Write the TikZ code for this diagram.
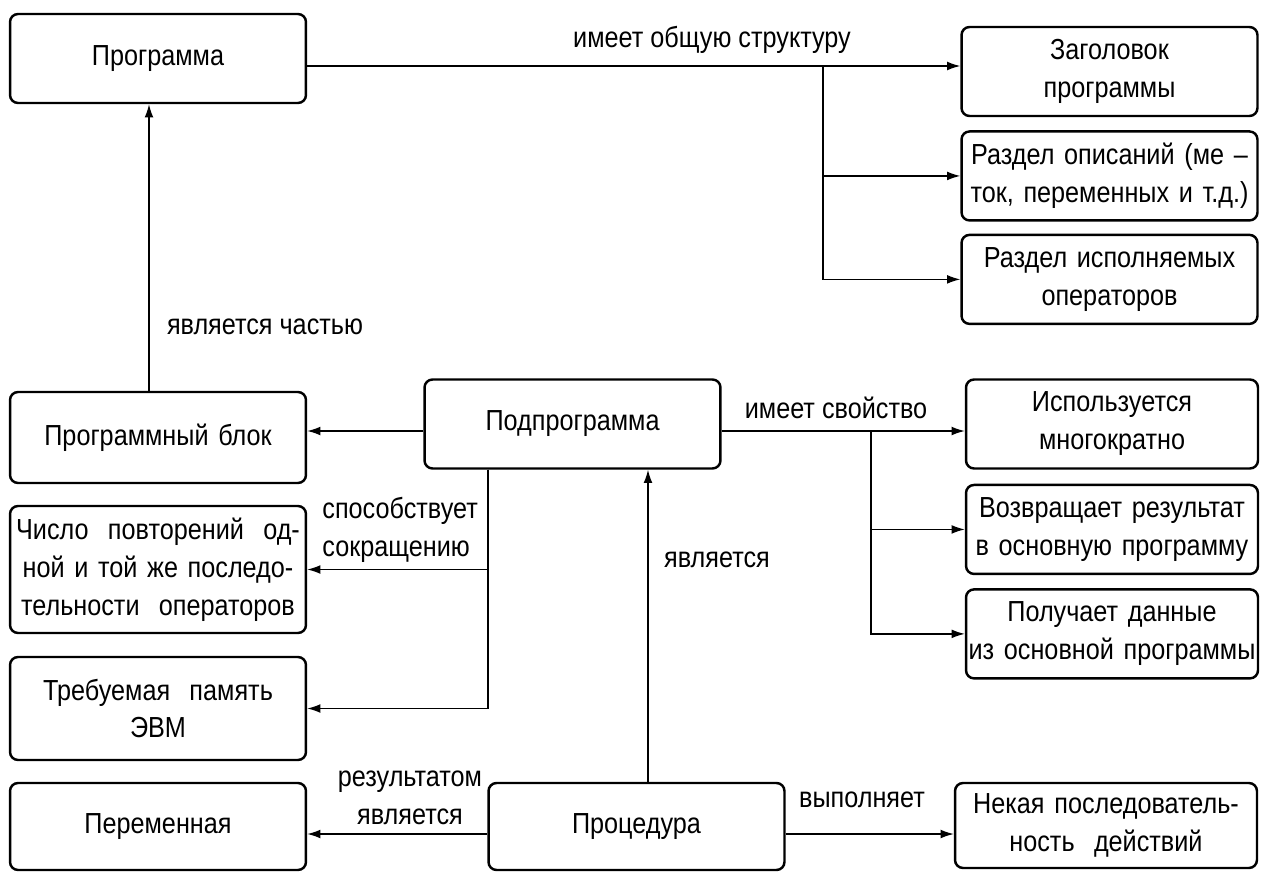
\documentclass[tikz,border=0pt]{standalone}
\usepackage{fontspec}
\setmainfont{Liberation Sans}[FakeStretch=0.87]
\usetikzlibrary{positioning,arrows.meta}

\begin{document}
\begin{tikzpicture}[x=0.02cm,y=-0.02cm,line width=0.75pt,>={Latex[length=7.5pt,width=5pt]},
	box/.style={draw,line width=1.4pt,rounded corners=0.16cm,minimum width=5.92cm,minimum height=1.78cm,
		text width=5.75cm,inner sep=1pt,align=center,font=\fontsize{16.5}{21.6}\selectfont},
	lbl/.style={font=\fontsize{16.5}{21.6}\selectfont,inner sep=1pt}]

	\useasboundingbox (0,0) rectangle (1261,872);

	\node[box] (prog) at (158,58.5) {Программа};
	\node[box] (zag) at (1109.5,71.5) {Заголовок\\программы};
	\node[box,below=0.26cm of zag] (opis) {Раздел описаний (ме –\\ток, переменных и т.д.)};
	\node[box,below=0.24cm of opis] (ispoln) {Раздел исполняемых\\операторов};

	\node[box,minimum height=1.82cm] (blok) at (158,437.5) {Программный блок};
	\node[box] (podprog) at (572.5,424) {Подпрограмма};
	\node[box,minimum width=5.84cm] (ispolz) at (1112,424) {Используется\\многократно};
	\node[box,minimum width=5.84cm,below=0.28cm of ispolz] (vozvr) {Возвращает результат\\в основную программу};
	\node[box,minimum width=5.84cm,below=0.26cm of vozvr] (poluch) {Получает данные\\из основной программы};

	\node[box,minimum height=2.54cm] (chislo) at (158,569.5) {Число~~повторений~~од-\\ной и той же последо-\\тельности~~операторов};
	\node[box,minimum height=2.06cm] (treb) at (158,708.5) {Требуемая~~память\\ЭВМ};
	\node[box,minimum height=1.74cm] (perem) at (158,826.5) {Переменная};
	\node[box,minimum height=1.74cm] (proc) at (636.5,826.5) {Процедура};
	\node[box,minimum width=6.04cm,minimum height=1.7cm] (nekaya) at (1106,825.5) {Некая последователь-\\ность~~действий};

	\coordinate (s1) at (823,66);
	\coordinate (s2) at (871,431);
	\coordinate (s3) at (488,708.5);
	\coordinate (s4) at (0,834);

	\draw[->] (prog.east |- s1) -- (zag.west |- s1);
	\draw[->] (s1) |- (opis.west);
	\draw[->] (s1) |- (ispoln.west);
	\draw[->] ([xshift=-0.18cm]blok.north) -- ([xshift=-0.18cm]prog.south);

	\draw[->] (podprog.west |- s2) -- (blok.east |- s2);
	\draw[->] (podprog.east |- s2) -- (ispolz.west |- s2);
	\draw[->] (s2) |- (vozvr.west);
	\draw[->] (s2) |- (poluch.west);
	\draw[->] (podprog.south -| s3) |- (treb.east);
	\draw[->] (podprog.south -| s3) |- (chislo.east);

	\draw[->] ([xshift=0.23cm]proc.north) -- ([xshift=0.23cm]proc.north |- podprog.south);
	\draw[->] (proc.west |- s4) -- (perem.east |- s4);
	\draw[->] (proc.east |- s4) -- (nekaya.west |- s4);

	\node[lbl] (l1) at (712,40) {имеет общую структуру};
	\node[lbl] (l2) at (265,327) {является частью};
	\node[lbl] (l3) at (836,408) {имеет свойство};
	\node[lbl,align=left,anchor=west] (l4) at (320,529.5) {способствует\\сокращению};
	\node[lbl] (l5) at (717,560) {является};
	\node[lbl,align=center] (l6) at (410,798) {результатом\\является};
	\node[lbl] (l7) at (862,800) {выполняет};
\end{tikzpicture}
\end{document}
